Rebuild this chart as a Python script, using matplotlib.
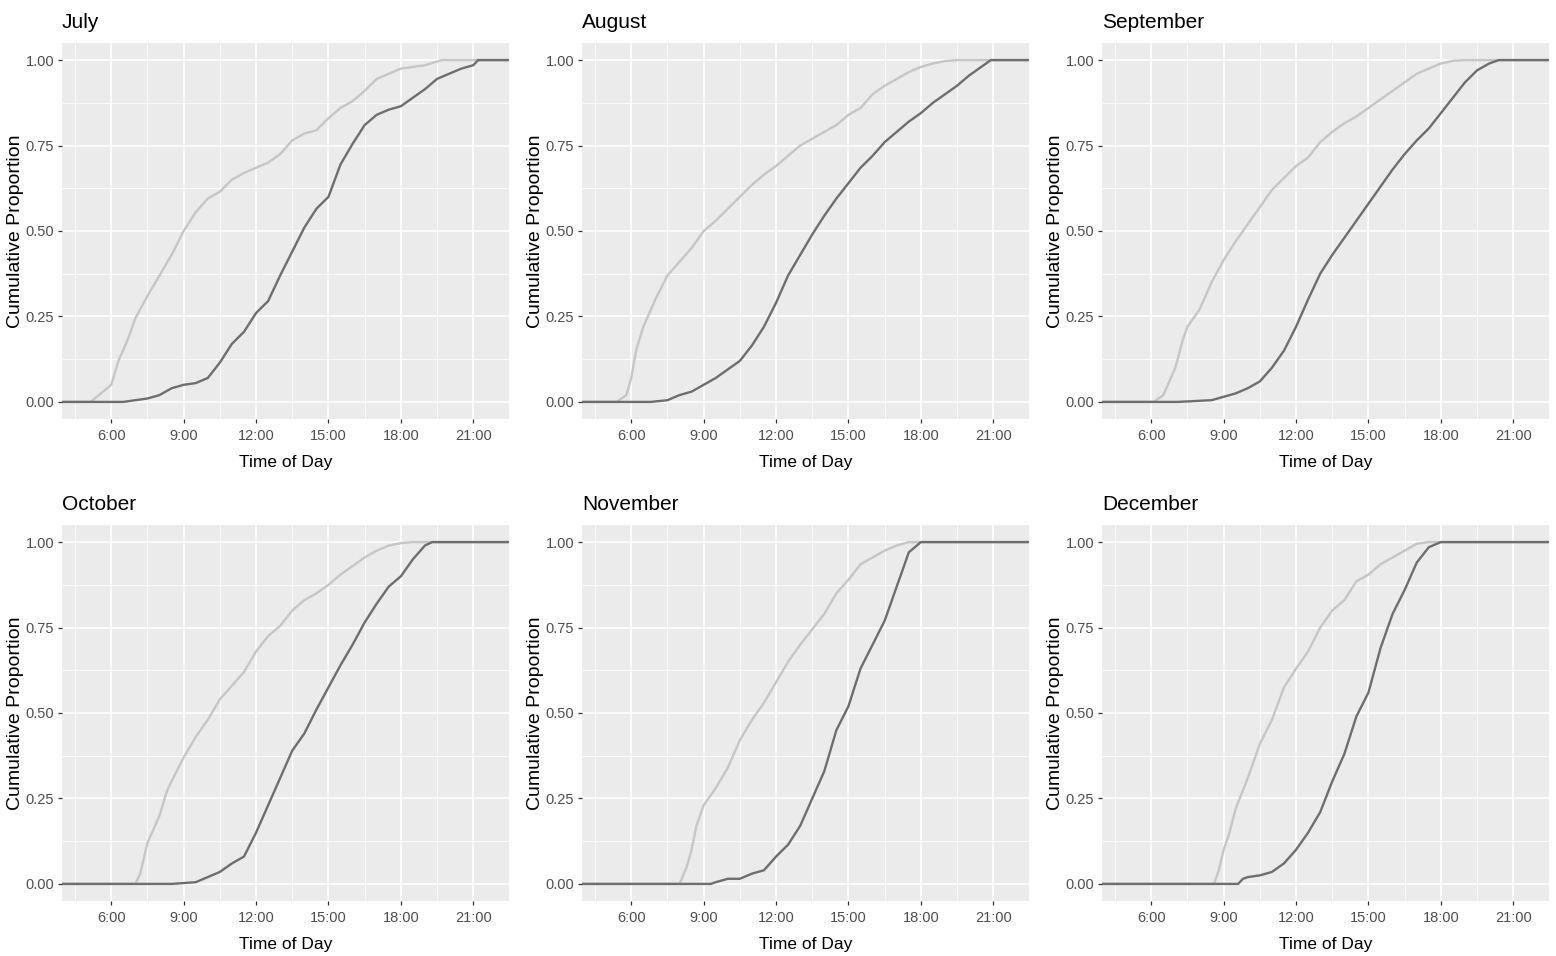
import matplotlib
matplotlib.use("Agg")
import matplotlib.pyplot as plt
from matplotlib.ticker import FixedLocator

plt.rcParams['font.family'] = ['Liberation Sans', 'DejaVu Sans']

# panel titles, in the order they appear
months = ["July", "August", "September", "October", "November", "December"]

# x tick labels (hours)
hour_ticks = [6, 9, 12, 15, 18, 21]
hour_labels = ["6:00", "9:00", "12:00", "15:00", "18:00", "21:00"]
prop_ticks = [0.0, 0.25, 0.5, 0.75, 1.0]
prop_labels = ["0.00", "0.25", "0.50", "0.75", "1.00"]

# curves: hour of day, cumulative proportion
jul_light_t = [5.15, 6.0, 6.3, 6.7, 7.0, 7.5, 8.0, 8.5, 9.0, 9.5, 10.0, 10.5, 11.0, 11.5, 12.0,
               12.5, 13.0, 13.5, 14.0, 14.5, 15.0, 15.5, 16.0, 16.5, 17.0, 17.5, 18.0, 19.0, 19.7]
jul_light_p = [0.0, 0.05, 0.12, 0.185, 0.245, 0.31, 0.37, 0.43, 0.50, 0.555, 0.595, 0.615, 0.65, 0.67, 0.685,
               0.70, 0.725, 0.765, 0.785, 0.795, 0.83, 0.86, 0.88, 0.91, 0.945, 0.96, 0.975, 0.985, 1.0]
jul_dark_t = [6.5, 7.0, 7.5, 8.0, 8.5, 9.0, 9.5, 10.0, 10.5, 11.0, 11.5, 12.0, 12.5, 13.0, 13.5, 14.0,
              14.5, 15.0, 15.5, 16.0, 16.5, 17.0, 17.5, 18.0, 18.5, 19.0, 19.5, 20.0, 20.5, 21.0, 21.2]
jul_dark_p = [0.0, 0.005, 0.01, 0.02, 0.04, 0.05, 0.055, 0.07, 0.115, 0.17, 0.205, 0.26, 0.295, 0.37, 0.44, 0.51,
              0.565, 0.60, 0.695, 0.755, 0.81, 0.84, 0.855, 0.865, 0.89, 0.915, 0.945, 0.96, 0.975, 0.985, 1.0]

aug_light_t = [5.4, 5.8, 6.0, 6.2, 6.5, 7.0, 7.5, 8.0, 8.5, 9.0, 9.5, 10.0, 10.5, 11.0, 11.5, 12.0, 12.5,
               13.0, 13.5, 14.0, 14.5, 15.0, 15.5, 16.0, 16.5, 17.0, 17.5, 18.0, 18.5, 19.0, 19.5]
aug_light_p = [0.0, 0.02, 0.07, 0.15, 0.22, 0.30, 0.37, 0.41, 0.45, 0.50, 0.53, 0.565, 0.60, 0.635, 0.665, 0.69, 0.72,
               0.75, 0.77, 0.79, 0.81, 0.84, 0.86, 0.90, 0.925, 0.945, 0.965, 0.98, 0.99, 0.997, 1.0]
aug_dark_t = [6.8, 7.5, 8.0, 8.5, 9.0, 9.5, 10.0, 10.5, 11.0, 11.5, 12.0, 12.5, 13.0, 13.5, 14.0, 14.5,
              15.0, 15.5, 16.0, 16.5, 17.0, 17.5, 18.0, 18.5, 19.0, 19.5, 20.0, 20.5, 20.9]
aug_dark_p = [0.0, 0.005, 0.02, 0.03, 0.05, 0.07, 0.095, 0.12, 0.165, 0.22, 0.29, 0.37, 0.43, 0.49, 0.545, 0.595,
              0.64, 0.685, 0.72, 0.76, 0.79, 0.82, 0.845, 0.875, 0.90, 0.925, 0.955, 0.98, 1.0]

sep_light_t = [6.1, 6.5, 7.0, 7.3, 7.5, 8.0, 8.5, 9.0, 9.5, 10.0, 10.5, 11.0, 11.5, 12.0, 12.5, 13.0, 13.5,
               14.0, 14.5, 15.0, 15.5, 16.0, 16.5, 17.0, 17.5, 18.0, 18.5, 19.0]
sep_light_p = [0.0, 0.02, 0.10, 0.18, 0.22, 0.27, 0.35, 0.415, 0.47, 0.52, 0.57, 0.62, 0.655, 0.69, 0.715, 0.76, 0.79,
               0.815, 0.835, 0.86, 0.885, 0.91, 0.935, 0.96, 0.975, 0.99, 0.998, 1.0]
sep_dark_t = [7.1, 8.5, 9.0, 9.5, 10.0, 10.5, 11.0, 11.5, 12.0, 12.5, 13.0, 13.5, 14.0, 14.5, 15.0, 15.5,
              16.0, 16.5, 17.0, 17.5, 18.0, 18.5, 19.0, 19.5, 20.0, 20.4]
sep_dark_p = [0.0, 0.005, 0.015, 0.025, 0.04, 0.06, 0.10, 0.15, 0.22, 0.30, 0.375, 0.43, 0.48, 0.53, 0.58, 0.63,
              0.68, 0.725, 0.765, 0.80, 0.845, 0.89, 0.935, 0.97, 0.99, 1.0]

oct_light_t = [7.0, 7.2, 7.5, 8.0, 8.3, 8.5, 9.0, 9.5, 10.0, 10.5, 11.0, 11.5, 12.0, 12.5, 13.0, 13.5,
               14.0, 14.5, 15.0, 15.5, 16.0, 16.5, 17.0, 17.5, 18.0, 18.5]
oct_light_p = [0.0, 0.03, 0.12, 0.20, 0.27, 0.30, 0.37, 0.43, 0.48, 0.54, 0.58, 0.62, 0.68, 0.725, 0.755, 0.80,
               0.83, 0.85, 0.875, 0.905, 0.93, 0.955, 0.975, 0.99, 0.997, 1.0]
oct_dark_t = [8.5, 9.5, 10.0, 10.5, 11.0, 11.5, 12.0, 12.5, 13.0, 13.5, 14.0, 14.5, 15.0, 15.5, 16.0, 16.5,
              17.0, 17.5, 18.0, 18.5, 19.0, 19.3]
oct_dark_p = [0.0, 0.005, 0.02, 0.035, 0.06, 0.08, 0.15, 0.23, 0.31, 0.39, 0.44, 0.51, 0.575, 0.64, 0.70, 0.765,
              0.82, 0.87, 0.90, 0.95, 0.99, 1.0]

nov_light_t = [8.0, 8.3, 8.5, 8.7, 9.0, 9.5, 10.0, 10.5, 11.0, 11.5, 12.0, 12.5, 13.0, 13.5, 14.0, 14.5,
               15.0, 15.5, 16.0, 16.5, 17.0, 17.5]
nov_light_p = [0.0, 0.05, 0.10, 0.17, 0.23, 0.28, 0.34, 0.42, 0.48, 0.53, 0.59, 0.65, 0.70, 0.745, 0.79, 0.85,
               0.89, 0.935, 0.955, 0.975, 0.99, 1.0]
nov_dark_t = [9.3, 9.5, 10.0, 10.5, 11.0, 11.5, 12.0, 12.5, 13.0, 13.5, 14.0, 14.5, 15.0, 15.5, 16.0, 16.5,
              17.0, 17.5, 18.0]
nov_dark_p = [0.0, 0.005, 0.015, 0.015, 0.03, 0.04, 0.08, 0.115, 0.17, 0.25, 0.33, 0.45, 0.52, 0.63, 0.70, 0.77,
              0.87, 0.97, 1.0]

dec_light_t = [8.6, 8.8, 9.0, 9.2, 9.5, 10.0, 10.5, 11.0, 11.5, 12.0, 12.5, 13.0, 13.5, 14.0, 14.5, 15.0,
               15.5, 16.0, 16.5, 17.0, 17.5]
dec_light_p = [0.0, 0.04, 0.10, 0.14, 0.22, 0.31, 0.41, 0.48, 0.575, 0.63, 0.68, 0.75, 0.80, 0.83, 0.885, 0.905,
               0.935, 0.955, 0.975, 0.995, 1.0]
dec_dark_t = [9.6, 9.8, 10.0, 10.5, 11.0, 11.5, 12.0, 12.5, 13.0, 13.5, 14.0, 14.5, 15.0, 15.5, 16.0, 16.5,
              17.0, 17.5, 18.0]
dec_dark_p = [0.0, 0.015, 0.02, 0.025, 0.035, 0.06, 0.10, 0.15, 0.21, 0.30, 0.38, 0.49, 0.56, 0.69, 0.79, 0.86,
              0.94, 0.985, 1.0]

light = [(jul_light_t, jul_light_p), (aug_light_t, aug_light_p), (sep_light_t, sep_light_p),
         (oct_light_t, oct_light_p), (nov_light_t, nov_light_p), (dec_light_t, dec_light_p)]
dark = [(jul_dark_t, jul_dark_p), (aug_dark_t, aug_dark_p), (sep_dark_t, sep_dark_p),
        (oct_dark_t, oct_dark_p), (nov_dark_t, nov_dark_p), (dec_dark_t, dec_dark_p)]

W, H = 1556, 956
fig = plt.figure(figsize=(W / 100, H / 100), dpi=100)

x_lo, x_hi = 3.96, 22.48
col_left = [62, 582, 1102]
row_top = [43, 525]
pw, ph = 447, 376

for i, month in enumerate(months):
    r, c = divmod(i, 3)
    ax = fig.add_axes([col_left[c] / W, 1 - (row_top[r] + ph) / H, pw / W, ph / H])
    ax.set_facecolor('#EBEBEB')
    for s in ax.spines.values():
        s.set_visible(False)

    ax.set_xlim(x_lo, x_hi)
    ax.set_ylim(-0.05, 1.05)
    ax.set_xticks(hour_ticks)
    ax.set_xticklabels(hour_labels)
    ax.set_yticks(prop_ticks)
    ax.set_yticklabels(prop_labels)
    ax.xaxis.set_minor_locator(FixedLocator([4.5, 7.5, 10.5, 13.5, 16.5, 19.5]))
    ax.yaxis.set_minor_locator(FixedLocator([0.125, 0.375, 0.625, 0.875]))
    ax.grid(which='major', color='white', lw=1.1)
    ax.grid(which='minor', color='white', lw=0.6)
    ax.set_axisbelow(True)
    ax.tick_params(which='major', length=3, width=0.9, color='#333333',
                   labelsize=10.5, labelcolor='#4D4D4D')
    ax.tick_params(axis='x', pad=4.5)
    ax.tick_params(axis='y', pad=2.5)
    ax.tick_params(which='minor', length=0)

    # ecdf lines run from panel edge to panel edge
    for (t, p), col in [(light[i], '#C6C6C6'), (dark[i], '#6E6E6E')]:
        ax.plot([x_lo] + t + [x_hi], [0] + p + [1], color=col, lw=1.7, solid_joinstyle='miter')

    ax.set_title(month, loc='left', fontsize=15, pad=10.5)
    ax.set_xlabel("Time of Day", fontsize=12.5, va='center')
    ax.xaxis.set_label_coords(0.5, -43 / ph)
    ax.set_ylabel("Cumulative Proportion", fontsize=14, va='center')
    ax.yaxis.set_label_coords(-46 / pw, 0.5)

fig.savefig("out.png", dpi=100)
